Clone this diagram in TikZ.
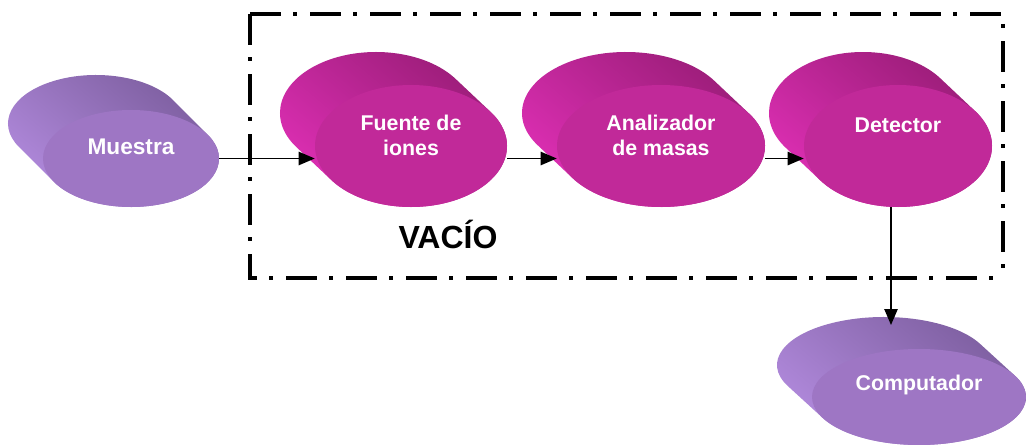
\documentclass[tikz,border=0pt]{standalone}
\usepackage{fontspec}
\setmainfont{Liberation Sans}
\usetikzlibrary{arrows.meta,shapes.geometric}
\definecolor{mfront}{HTML}{C12999}
\definecolor{mlight}{HTML}{E230B8}
\definecolor{mdark}{HTML}{961C74}
\definecolor{pfront}{HTML}{9E76C4}
\definecolor{plight}{HTML}{B48CE0}
\definecolor{pdark}{HTML}{7A5C9C}
% #1 cx, #2 cy, #3 rx, #4 ry, #5 dx, #6 dy, #7 light, #8 dark
\newcommand\cylside[8]{%
  \pgfmathsetmacro\tA{atan2(-(#5)*(#4),(#6)*(#3))}%
  \pgfmathsetmacro\tB{\tA+180}%
  \pgfmathsetmacro\tC{\tA+360}%
  \shade[top color=#8, bottom color=#7, shading angle=-40]
    ({#1+#5+#3*cos(\tA)},{#2+#6+#4*sin(\tA)})
    arc[start angle=\tA, end angle=\tB, x radius=#3, y radius=#4]
    -- ({#1+#3*cos(\tB)},{#2+#4*sin(\tB)})
    arc[start angle=\tB, end angle=\tC, x radius=#3, y radius=#4]
    -- cycle;%
}
\tikzset{
  front/.style={ellipse, inner sep=0pt, draw=none},
  lbl/.style={text=white, font=\bfseries\fontsize{16}{18.75}\selectfont, align=center},
  arr/.style={line width=1.1pt, -{Triangle[length=12pt,width=10pt]}},
  vacuum/.style={line width=3pt, dash pattern=on 23.25pt off 9pt on 3pt off 9.75pt}
}
\begin{document}
\begin{tikzpicture}[x=0.75pt,y=0.75pt]
\useasboundingbox (0,0) rectangle (1026,444);
\fill[white] (0,0) rectangle (1026,444);
% vacuum box
\draw[vacuum] (250,430) -- (1003,430) -- (1003,166);
\draw[vacuum] (250,430) -- (250,166) -- (1003,166);
\node[font=\bfseries\fontsize{24}{28}\selectfont, anchor=base] (vacio) at (448,196) {VACÍO};
% shapes
\cylside{131}{285.5}{88}{48.5}{-35}{35}{plight}{pdark}
\node[front, fill=pfront, minimum width=132pt, minimum height=72.75pt,
  label={[lbl, font=\bfseries\fontsize{17}{20}\selectfont, yshift=8.6pt]center:Muestra}] (muestra) at (131,285.5) {};
\cylside{411}{298}{96}{61}{-35}{33}{mlight}{mdark}
\node[front, fill=mfront, minimum width=144pt, minimum height=91.5pt,
  label={[lbl, yshift=7.9pt]center:Fuente de\\iones}] (fuente) at (411,298) {};
\cylside{661}{298}{104}{61}{-35}{33}{mlight}{mdark}
\node[front, fill=mfront, minimum width=156pt, minimum height=91.5pt,
  label={[lbl, yshift=7.9pt]center:Analizador\\de masas}] (analizador) at (661,298) {};
\cylside{898}{298}{94}{61}{-35}{33}{mlight}{mdark}
\node[front, fill=mfront, minimum width=141pt, minimum height=91.5pt,
  label={[lbl, yshift=15.75pt]center:Detector}] (detector) at (898,298) {};
\cylside{919}{47}{107}{48}{-35}{32}{plight}{pdark}
\node[front, fill=pfront, minimum width=160.5pt, minimum height=72pt,
  label={[lbl, yshift=9pt]center:Computador}] (computador) at (919,47) {};
% connectors
\coordinate (cin) at (891,119);
\draw[arr] (muestra.east) -- (fuente.west |- muestra.east);
\draw[arr] (fuente.east |- muestra.east) -- (analizador.west |- muestra.east);
\draw[arr] (analizador.east |- muestra.east) -- (detector.west |- muestra.east);
\draw[arr] (detector.south -| cin) -- (cin);
\end{tikzpicture}
\end{document}
